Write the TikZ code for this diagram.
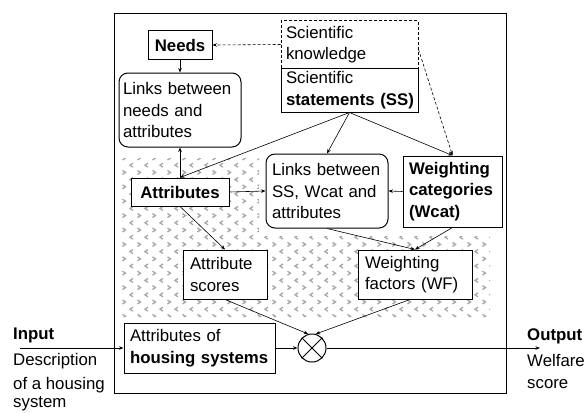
\documentclass[tikz,border=0pt]{standalone}
\usepackage{fontspec}
\setmainfont{Liberation Sans}
\usetikzlibrary{arrows.meta,calc}
\newcommand\myfs{\fontsize{16.8}{21.5}\selectfont}
\tikzset{
  box/.style={draw, fill=white, line width=1pt, inner xsep=6pt, inner ysep=0pt, align=left, font=\myfs},
  rbox/.style={box, rounded corners=9pt},
  cbox/.style={box, align=center, font=\myfs\bfseries},
  lbl/.style={anchor=base west, inner sep=0pt, font=\myfs},
  arr/.style={line width=0.6pt, -{Stealth[length=4.5pt,width=3.5pt]}},
  darr/.style={arr, dash pattern=on 3pt off 2pt},
  chev/.style={gray!70, line width=1.3pt}
}
\begin{document}
\begin{tikzpicture}[x=1pt,y=-1pt]
\useasboundingbox (0,0) rectangle (585,412);
% texture
\begin{scope}
\clip (122,158) -- (259,158) -- (259,236) -- (490,236) -- (490,317) -- (122,317) -- cycle;
\foreach \r in {0,...,22} {
  \foreach \c in {0,...,25} {
    \ifodd\r
      \draw[chev] ({131.5+15*\c+1.5},{158+7.2*\r-2}) -- ({131.5+15*\c-1.5},{158+7.2*\r}) -- ({131.5+15*\c+1.5},{158+7.2*\r+2});
    \else
      \draw[chev] ({124+15*\c-1.5},{158+7.2*\r-2}) -- ({124+15*\c+1.5},{158+7.2*\r}) -- ({124+15*\c-1.5},{158+7.2*\r+2});
    \fi
  }
}
\end{scope}
% frame
\draw[line width=1pt] (114,14) rectangle (506,393);
% nodes
\node[cbox, minimum width=64pt, minimum height=28pt] (needs) at (180,45) {Needs};
\node[box, dash pattern=on 3pt off 2pt, inner xsep=3pt, minimum width=137pt, minimum height=47pt, text width=131pt] (sk) at (349.5,44.5) {\hspace*{2pt}Scientific\\\hspace*{2pt}knowledge};
\node[box, inner xsep=3pt, minimum width=137pt, minimum height=44pt, text width=131pt] (ss) at (349.5,90) {\hspace*{2pt}Scientific\\\hspace*{2pt}\textbf{statements (SS)}};
\node[rbox, inner xsep=4pt, minimum width=122pt, minimum height=74pt, text width=114pt] (lna) at (180,110) {Links between\\needs and\\attributes};
\node[cbox, minimum width=98pt, minimum height=28pt] (attr) at (180,192) {Attributes};
\node[rbox, minimum width=122pt, minimum height=74pt, text width=110pt] (lss) at (327,191) {Links between\\SS, Wcat and\\attributes};
\node[box, minimum width=99pt, minimum height=71pt, text width=87pt, font=\myfs\bfseries] (wcat) at (452.5,191.5) {Weighting\\categories\\(Wcat)};
\node[box, inner xsep=7pt, minimum width=84pt, minimum height=49pt, text width=70pt] (as) at (225,274.5) {Attribute\\scores};
\node[box, inner xsep=7pt, minimum width=114pt, minimum height=49pt, text width=100pt] (wf) at (415,274.5) {Weighting\\factors (WF)};
\node[box, minimum width=151pt, minimum height=50pt, text width=139pt] (ahs) at (199.5,348) {Attributes of\\\textbf{housing systems}};
\node[draw, line width=1pt, circle, minimum size=28pt, inner sep=0pt] (mult) at (312,348) {};
\draw[line width=0.8pt] (mult.north west) -- (mult.south east) (mult.north east) -- (mult.south west);
% outside labels
\node[lbl, font=\myfs\bfseries] (inp) at (13,339) {Input};
\node[lbl] (desc1) at (13,365) {Description};
\node[lbl] (desc2) at (13,389) {of a housing};
\node[lbl] (desc3) at (13,407) {system};
\node[lbl, font=\myfs\bfseries] (outp) at (527,340) {Output};
\node[lbl] (wel1) at (527,366) {Welfare};
\node[lbl] (wel2) at (527,388) {score};
\coordinate (inA) at (20,348);
\coordinate (outA) at (540,348);
% connectors
\draw[darr] (sk.west) -- (needs.east);
\draw[darr] ($(sk.east)+(0,5)$) -- (wcat.north);
\draw[arr] (needs.south) -- (lna.north);
\draw[arr] (attr.north) -- (lna.south);
\draw[arr] (ss.south) -- (attr.north);
\draw[arr] (ss.south) -- (lss.north);
\draw[arr] (ss.south) -- (wcat.north);
\draw[arr] (attr.east) -- (lss.west);
\draw[arr] (wcat.west) -- (lss.east);
\draw[arr] (attr.south) -- (as.north);
\draw[arr] (lss.south) -- (wf.north);
\draw[arr] (wcat.south) -- (wf.north);
\draw[arr] (as.south) -- (mult.105);
\draw[arr] ($(wf.south)+(-5,0)$) -- (mult.75);
\draw[arr] (ahs.east) -- (mult.west);
\draw[arr] (inA) -- (ahs.west);
\draw[arr] (mult.east) -- (outA);
\end{tikzpicture}
\end{document}
